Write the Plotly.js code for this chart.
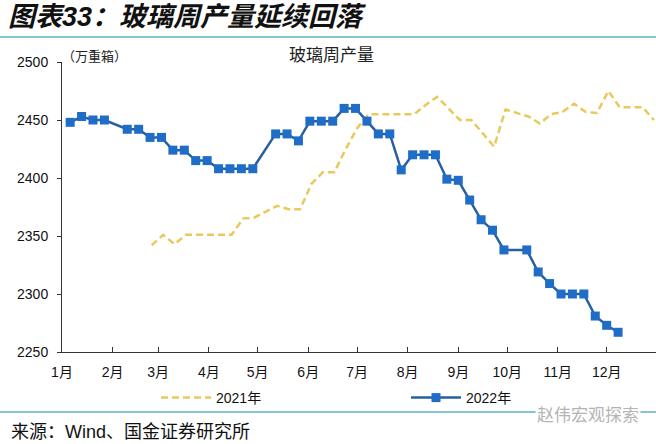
<!DOCTYPE html>
<html>
<head>
<meta charset="utf-8">
<script src="https://cdn.plot.ly/plotly-3.0.1.min.js"></script>
<style>html,body{margin:0;padding:0;background:#fff;}#chart{width:656px;height:444px;}</style>
</head>
<body>
<div id="chart"></div>
<script>
// ---- data ----
const monthTickDates = ['2022-01-01','2022-02-01','2022-03-01','2022-04-01','2022-05-01','2022-06-01','2022-07-01','2022-08-01','2022-09-01','2022-10-01','2022-11-01','2022-12-01'];
const monthTickLabels = ['1月','2月','3月','4月','5月','6月','7月','8月','9月','10月','11月','12月'];
const yTicks = [2250, 2300, 2350, 2400, 2450, 2500];

// 2021 weekly output, placed on the same month-day calendar
const dates2021 = ['2022-02-25','2022-03-04','2022-03-11','2022-03-18','2022-03-25','2022-04-01','2022-04-08','2022-04-15','2022-04-22','2022-04-29','2022-05-06','2022-05-13','2022-05-20','2022-05-27','2022-06-03','2022-06-10','2022-06-17','2022-06-24','2022-07-01','2022-07-08','2022-07-15','2022-07-22','2022-07-29','2022-08-05','2022-08-12','2022-08-19','2022-08-26','2022-09-02','2022-09-09','2022-09-16','2022-09-23','2022-09-30','2022-10-07','2022-10-14','2022-10-21','2022-10-28','2022-11-04','2022-11-11','2022-11-18','2022-11-25','2022-12-02','2022-12-09','2022-12-16','2022-12-23','2022-12-30'];
const values2021 = [2342,2351,2343,2351,2351,2351,2351,2351,2365,2366,2371,2376,2373,2373,2395,2405,2405,2425,2443,2455,2455,2455,2455,2455,2463,2470,2460,2450,2450,2438,2427,2459,2456,2453,2447,2455,2457,2464,2457,2456,2475,2461,2461,2461,2450];

// 2022 weekly output
const dates2022 = ['2022-01-06','2022-01-13','2022-01-20','2022-01-27','2022-02-10','2022-02-17','2022-02-24','2022-03-03','2022-03-10','2022-03-17','2022-03-24','2022-03-31','2022-04-07','2022-04-14','2022-04-21','2022-04-28','2022-05-12','2022-05-19','2022-05-26','2022-06-02','2022-06-09','2022-06-16','2022-06-23','2022-06-30','2022-07-07','2022-07-14','2022-07-21','2022-07-28','2022-08-04','2022-08-11','2022-08-18','2022-08-25','2022-09-01','2022-09-08','2022-09-15','2022-09-22','2022-09-29','2022-10-13','2022-10-20','2022-10-27','2022-11-03','2022-11-10','2022-11-17','2022-11-24','2022-12-01','2022-12-08'];
const values2022 = [2448,2453,2450,2450,2442,2442,2435,2435,2424,2424,2415,2415,2408,2408,2408,2408,2438,2438,2432,2449,2449,2449,2460,2460,2449,2438,2438,2407,2420,2420,2420,2399,2398,2381,2364,2355,2338,2338,2319,2309,2300,2300,2300,2281,2273,2267];

const seriesNames = ['2021年','2022年'];

// ---- chart ----
const FONT = 'Liberation Sans, Arial, Noto Sans CJK SC, sans-serif';
const CJK = 'Noto Sans CJK SC, sans-serif';
const PW = 594, PH = 290, PL = 62, PT = 62;
const px = v => (v - PL) / PW;
const py = v => (PT + PH - v) / PH;

const traces = [
  {
    x: dates2021, y: values2021, name: seriesNames[0], type: 'scatter', mode: 'lines',
    line: {color: '#e9c95c', width: 2.5, dash: '7px,4px'},
    legend: 'legend', cliponaxis: false
  },
  {
    x: dates2022, y: values2022, name: seriesNames[1], type: 'scatter', mode: 'lines+markers',
    line: {color: '#2760a2', width: 2.5},
    marker: {symbol: 'square', size: 9, color: '#1f6dc7'},
    legend: 'legend2', cliponaxis: false
  }
];

const layout = {
  width: 656, height: 444,
  margin: {l: PL, r: 0, t: PT, b: 444 - PT - PH, autoexpand: false},
  paper_bgcolor: '#ffffff', plot_bgcolor: '#ffffff',
  font: {family: FONT, size: 14, color: '#111'},
  title: {
    text: '图表33：玻璃周产量延续回落',
    xref: 'container', yref: 'container', x: 8/656, xanchor: 'left', y: 1 - 17/444, yanchor: 'middle',
    font: {family: 'Liberation Sans, ' + CJK, size: 27, weight: 'bold', style: 'italic', color: '#111'}
  },
  showlegend: true,
  legend: {orientation: 'h', x: px(156), xanchor: 'left', y: py(398), yanchor: 'middle',
           itemwidth: 50, font: {family: FONT, size: 14, color: '#111'}, bgcolor: 'rgba(0,0,0,0)'},
  legend2: {orientation: 'h', x: px(406), xanchor: 'left', y: py(398), yanchor: 'middle',
           itemwidth: 50, font: {family: FONT, size: 14, color: '#111'}, bgcolor: 'rgba(0,0,0,0)'},
  xaxis: {
    type: 'date', range: ['2022-01-01', '2022-12-31 06:00'],
    tickmode: 'array', tickvals: monthTickDates, ticktext: monthTickLabels,
    ticks: 'inside', ticklen: 5, tickcolor: '#333', tickwidth: 1,
    showline: true, linecolor: '#333', linewidth: 1,
    showgrid: false, zeroline: false, ticklabelstandoff: 7,
    tickfont: {family: FONT, size: 14, color: '#111'}, fixedrange: true
  },
  yaxis: {
    range: [2250, 2500], tickmode: 'array', tickvals: yTicks,
    ticks: 'outside', ticklen: 4, tickcolor: '#333', tickwidth: 1,
    showline: true, linecolor: '#333', linewidth: 1,
    showgrid: false, zeroline: false, ticklabelstandoff: 6,
    tickfont: {family: FONT, size: 14, color: '#111'}, fixedrange: true
  },
  shapes: [
    {type: 'line', xref: 'paper', yref: 'paper', x0: px(0), x1: 1, y0: py(37), y1: py(37),
     line: {color: '#5fb2bd', width: 1.5}},
    {type: 'line', xref: 'paper', yref: 'paper', x0: px(0), x1: 1, y0: py(412), y1: py(412),
     line: {color: '#5fb2bd', width: 1.5}}
  ],
  annotations: [
    {text: '（万重箱）', xref: 'paper', yref: 'paper', x: px(60), xanchor: 'left', y: py(56), yanchor: 'middle',
     showarrow: false, font: {family: CJK, size: 13, color: '#222'}},
    {text: '玻璃周产量', xref: 'paper', yref: 'paper', x: px(331), xanchor: 'center', y: py(53), yanchor: 'middle',
     showarrow: false, font: {family: CJK, size: 17, color: '#222'}},
    {text: '来源：Wind、国金证券研究所', xref: 'paper', yref: 'paper', x: px(9), xanchor: 'left', y: py(432), yanchor: 'middle',
     showarrow: false, font: {family: 'Liberation Sans, ' + CJK, size: 18, color: '#111'}},
    {text: '赵伟宏观探索', xref: 'paper', yref: 'paper', x: px(588), xanchor: 'center', y: py(413), yanchor: 'middle',
     showarrow: false, bgcolor: '#ffffff', font: {family: CJK, size: 17, color: '#b4b4b4'}}
  ]
};

Plotly.newPlot('chart', traces, layout, {displayModeBar: false, staticPlot: true});
</script>
</body>
</html>
